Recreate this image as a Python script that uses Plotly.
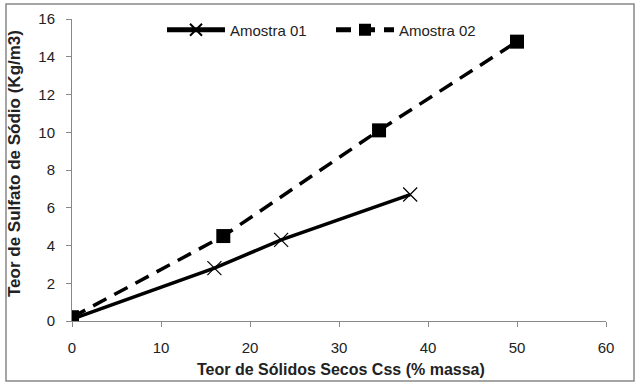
import plotly.graph_objects as go

x_a01 = [0, 16, 23.5, 38]
y_a01 = [0.1, 2.8, 4.3, 6.7]
x_a02 = [0, 17, 34.5, 50]
y_a02 = [0.2, 4.5, 10.1, 14.8]
names = ["Amostra 01", "Amostra 02"]
x_ticks = [0, 10, 20, 30, 40, 50, 60]
y_ticks = [0, 2, 4, 6, 8, 10, 12, 14, 16]
x_title = "Teor de Sólidos Secos Css (% massa)"
y_title = "Teor de Sulfato de Sódio (Kg/m3)"

FONT = "Liberation Sans, Arial, sans-serif"
fig = go.Figure()
fig.add_trace(go.Scatter(
    x=x_a01, y=y_a01, name=names[0], mode="lines+markers",
    line=dict(color="black", width=3.5),
    marker=dict(symbol="x-thin", size=14, line=dict(color="black", width=1.2)),
))
fig.add_trace(go.Scatter(
    x=x_a02, y=y_a02, name=names[1], mode="lines+markers",
    line=dict(color="black", width=3.5, dash="15px,9px"),
    marker=dict(symbol="square", size=14, color="black"),
))

L, R, T, B = 72, 34, 19, 65
W, H = 640, 386
pw, ph = W - L - R, H - T - B

fig.update_layout(
    width=W, height=H,
    margin=dict(l=L, r=R, t=T, b=B, autoexpand=False),
    paper_bgcolor="white", plot_bgcolor="white",
    font=dict(family=FONT, size=15, color="#222"),
    showlegend=True,
    legend=dict(orientation="h", x=(162 - L) / pw, y=(H - B - 30) / ph,
                xanchor="left", yanchor="middle",
                font=dict(family=FONT, size=15, color="#222"),
                itemwidth=58, entrywidth=96, entrywidthmode="pixels",
                itemsizing="constant",
                bgcolor="rgba(0,0,0,0)"),
    xaxis=dict(range=[0, 60], tickvals=x_ticks, showgrid=False, automargin=False,
               showline=True, linecolor="#888", linewidth=1, ticks="outside", ticklen=5,
               tickcolor="#888", zeroline=False, ticklabelstandoff=8,
               tickfont=dict(size=15)),
    yaxis=dict(range=[0, 16], tickvals=y_ticks, showgrid=False, automargin=False,
               showline=True, linecolor="#888", linewidth=1, ticks="outside", ticklen=5,
               tickcolor="#888", zeroline=False, ticklabelstandoff=8,
               tickfont=dict(size=15)),
    annotations=[
        dict(text="<b>" + x_title + "</b>", xref="paper", yref="paper",
             x=(341 - L) / pw, y=-(369 - (H - B)) / ph, xanchor="center", yanchor="middle",
             showarrow=False, font=dict(family=FONT, size=16, color="#222")),
        dict(text="<b>" + y_title + "</b>", xref="paper", yref="paper", textangle=-90,
             x=(14 - L) / pw, y=((H - B) - 164) / ph, xanchor="center", yanchor="middle",
             showarrow=False, font=dict(family=FONT, size=17, color="#222")),
    ],
    shapes=[dict(type="rect", xref="paper", yref="paper",
                 x0=(6 - L) / pw, x1=(634 - L) / pw,
                 y0=-(381 - (H - B)) / ph, y1=((H - B) - 4) / ph,
                 line=dict(color="#888", width=1.5), fillcolor="rgba(0,0,0,0)", layer="below")],
)
fig.write_html("out.html", config={"displayModeBar": False},
               post_script="document.body.style.margin='0';document.body.style.overflow='hidden';")
